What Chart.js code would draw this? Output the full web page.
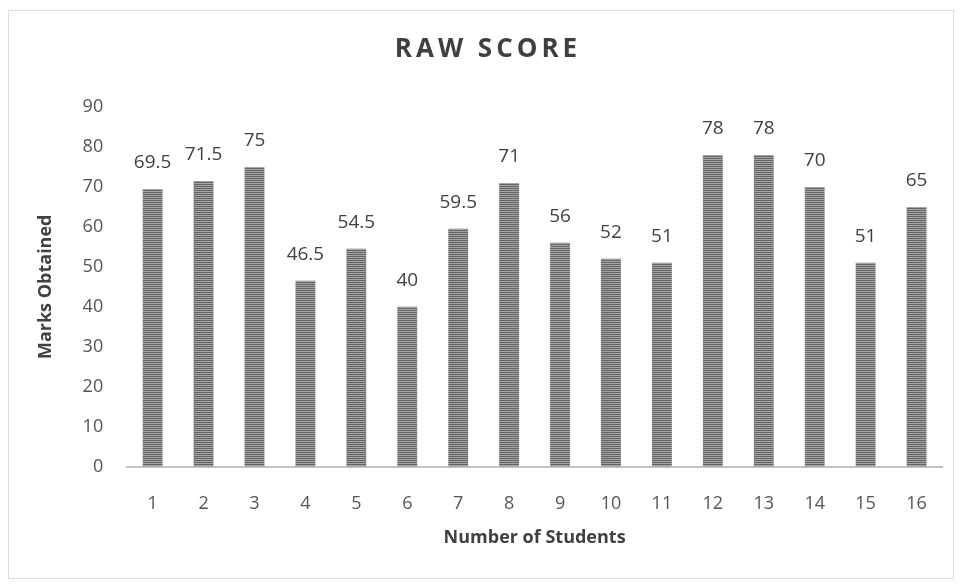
<!DOCTYPE html>
<html>
<head>
<meta charset="utf-8">
<script src="https://cdn.jsdelivr.net/npm/chart.js@4/dist/chart.umd.min.js"></script>
<style>
  html, body { margin: 0; padding: 0; background: #fff; }
  #wrap { width: 961px; height: 585px; position: relative; }
</style>
</head>
<body>
<div id="wrap"><canvas id="scoreChart" width="961" height="585"></canvas></div>
<script>
// chart data
const students = ['1', '2', '3', '4', '5', '6', '7', '8', '9', '10', '11', '12', '13', '14', '15', '16'];
const rawScores = [69.5, 71.5, 75, 46.5, 54.5, 40, 59.5, 71, 56, 52, 51, 78, 78, 70, 51, 65];
const yTicks = [0, 10, 20, 30, 40, 50, 60, 70, 80, 90];

const chartTitle = 'RAW SCORE';
const xTitle = 'Number of Students';
const yTitle = 'Marks Obtained';

const FONT = '"Open Sans", Lato, sans-serif';

// striped fill like the printed bars
function makeStripes() {
    const c = document.createElement('canvas');
    c.width = 4;
    c.height = 2;
    const g = c.getContext('2d');
    g.fillStyle = '#646464';
    g.fillRect(0, 0, 4, 1);
    g.fillStyle = '#a4a4a4';
    g.fillRect(0, 1, 4, 1);
    return g.createPattern(c, 'repeat');
}

// frame + spaced-out title
const framePlugin = {
    id: 'frame',
    beforeDraw(chart) {
        const ctx = chart.ctx;
        ctx.save();
        ctx.strokeStyle = '#dcdcdc';
        ctx.lineWidth = 1;
        ctx.strokeRect(8.5, 10.5, 945, 568);
        ctx.fillStyle = '#3f3f3f';
        ctx.font = 'bold 26px ' + FONT;
        ctx.letterSpacing = '4px';
        ctx.textAlign = 'center';
        ctx.textBaseline = 'middle';
        ctx.fillText(chartTitle, 488, 50);
        ctx.restore();
    }
};

// value labels above each bar
const valueLabels = {
    id: 'valueLabels',
    afterDatasetsDraw(chart) {
        const ctx = chart.ctx;
        const meta = chart.getDatasetMeta(0);
        ctx.save();
        ctx.fillStyle = '#404040';
        ctx.font = '19px ' + FONT;
        ctx.textAlign = 'center';
        ctx.textBaseline = 'alphabetic';
        meta.data.forEach((bar, i) => {
            ctx.fillText(String(rawScores[i]), bar.x, bar.y - 21);
        });
        ctx.restore();
    }
};

const ctx = document.getElementById('scoreChart').getContext('2d');

new Chart(ctx, {
    type: 'bar',
    data: {
        labels: students,
        datasets: [{
            label: chartTitle,
            data: rawScores,
            backgroundColor: makeStripes(),
            borderWidth: 0,
            barPercentage: 0.39,
            categoryPercentage: 1.0
        }]
    },
    options: {
        responsive: false,
        animation: false,
        layout: {
            padding: { top: 107, left: 35, right: 19, bottom: 40 }
        },
        plugins: {
            legend: { display: false },
            tooltip: { enabled: false },
            title: { display: false }
        },
        scales: {
            x: {
                grid: { display: false, drawTicks: false },
                border: { display: true, color: '#c4c4c4', width: 2 },
                ticks: {
                    color: '#555555',
                    font: { family: FONT, size: 18, lineHeight: 1 },
                    padding: 28
                },
                title: {
                    display: true,
                    text: xTitle,
                    color: '#404040',
                    font: { family: FONT, size: 18, weight: 'bold', lineHeight: 0.8 },
                    padding: { top: -10, bottom: 0 }
                }
            },
            y: {
                min: 0,
                max: 90,
                afterBuildTicks(scale) {
                    scale.ticks = yTicks.map(v => ({ value: v }));
                },
                grid: { display: false, drawTicks: false },
                border: { display: false },
                ticks: {
                    color: '#555555',
                    font: { family: FONT, size: 18 },
                    padding: 24
                },
                title: {
                    display: true,
                    text: yTitle,
                    color: '#404040',
                    font: { family: FONT, size: 18, weight: 'bold' },
                    padding: { top: 0, bottom: 2 }
                }
            }
        }
    },
    plugins: [framePlugin, valueLabels]
});
</script>
</body>
</html>
